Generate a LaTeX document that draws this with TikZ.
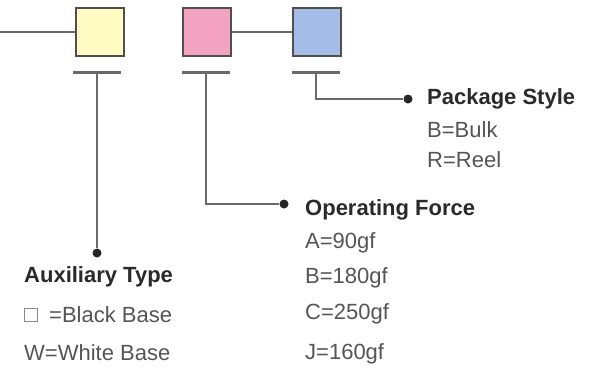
\documentclass[tikz,border=0pt]{standalone}
\usepackage{fontspec}
\setmainfont{Liberation Sans}
\usetikzlibrary{positioning}
\definecolor{boxline}{HTML}{505050}
\definecolor{leadgray}{HTML}{6A6A6A}
\definecolor{yelfill}{HTML}{FFFBC2}
\definecolor{pnkfill}{HTML}{F3A2C0}
\definecolor{blufill}{HTML}{A4BCE6}
\definecolor{headtxt}{HTML}{2A2A2A}
\definecolor{itemtxt}{HTML}{555555}
\begin{document}
\begin{tikzpicture}[x=1pt, y=-1pt,
                    key/.style={draw=boxline, line width=2pt, minimum size=48pt, inner sep=0pt},
                    bar/.style={fill=leadgray, minimum width=48pt, minimum height=3pt, inner sep=0pt},
                    lead/.style={draw=leadgray, line width=2pt},
                    dot/.style={circle, fill=black!85, minimum size=9pt, inner sep=0pt},
                    head/.style={anchor=west, inner sep=0pt, text=headtxt, font=\fontsize{22}{26}\selectfont\bfseries},
                    item/.style={anchor=west, inner sep=0pt, text=itemtxt, font=\fontsize{22}{26}\selectfont}]
\useasboundingbox (0,0) rectangle (603,375);
\node[key, fill=yelfill] (yel) at (99.5,32) {};
\node[key, fill=pnkfill] (pnk) at (207,32) {};
\node[key, fill=blufill] (blu) at (317,32) {};
\coordinate (left) at (0,32);
\draw[lead] (left) -- (yel);
\draw[lead] (pnk) -- (blu);
\node[bar] (ybar) at (97,72) {};
\node[bar] (pbar) at (206,72) {};
\node[bar] (bbar) at (316,72) {};
\node[dot] (ydot) at (97,253) {};
\node[dot] (pdot) at (284,204) {};
\node[dot] (bdot) at (408,99) {};
\draw[lead] (ybar.south) -- (ydot);
\draw[lead] (pbar.south) |- (pdot);
\draw[lead] (bbar.south) |- (bdot);
% package style
\node[head] (pkg) at (427,99) {Package Style};
\node[item] (pkgb) at (427,130) {B=Bulk};
\node[item] (pkgr) at (427,160) {R=Reel};
% operating force
\node[head] (opf) at (305,210) {Operating Force};
\node[item] (opfa) at (305,243) {A=90gf};
\node[item] (opfb) at (305,278) {B=180gf};
\node[item] (opfc) at (305,314) {C=250gf};
\node[item] (opfj) at (305,354) {J=160gf};
% auxiliary type
\node[head] (aux) at (24,277) {Auxiliary Type};
\node[draw=itemtxt!70, line width=1pt, minimum size=13pt, inner sep=0pt] (auxsq) at (31,315) {};
\node[item] (auxb) at (49,315) {=Black Base};
\node[item] (auxw) at (24,353) {W=White Base};
\end{tikzpicture}
\end{document}
